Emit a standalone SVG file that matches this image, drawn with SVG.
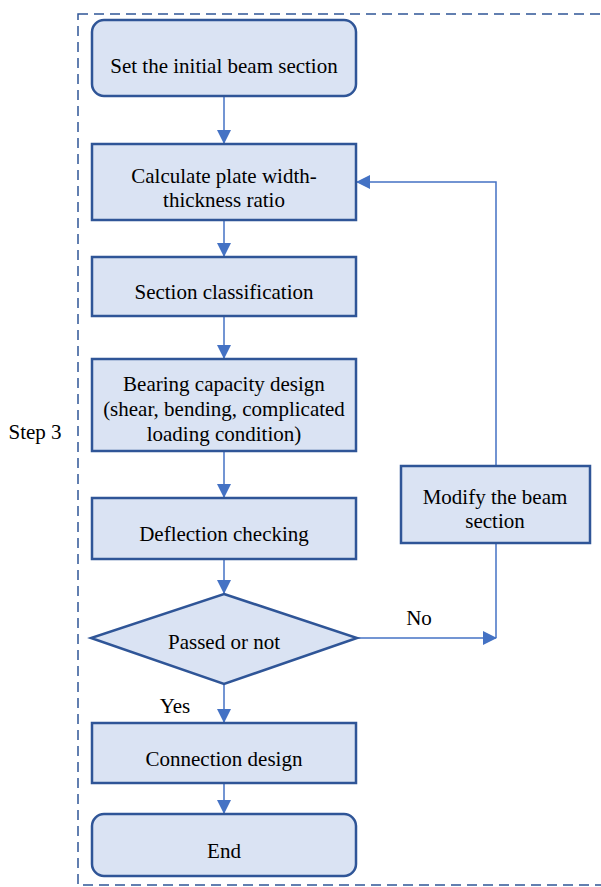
<svg xmlns="http://www.w3.org/2000/svg" width="601" height="887" viewBox="0 0 601 887">
<style>
.box{fill:#dae3f3;stroke:#2f5597;stroke-width:2.5}
.t{font-family:'Liberation Serif','Times New Roman',serif;font-size:21px;fill:#000;text-anchor:middle}
.c{stroke:#4472c4;stroke-width:1.5;fill:none}
</style>
<defs>
<marker id="ah" markerWidth="14" markerHeight="14" refX="13" refY="7" orient="auto" markerUnits="userSpaceOnUse">
<path d="M0,0 L14,7 L0,14 Z" fill="#4472c4"/>
</marker>
</defs>
<rect x="78" y="14" width="540" height="871" fill="none" stroke="#2f5597" stroke-width="1.5" stroke-dasharray="10,6"/>
<text class="t" x="35" y="439">Step 3</text>
<g id="connectors">
<line class="c" x1="224" y1="96" x2="224" y2="143" marker-end="url(#ah)"/>
<line class="c" x1="224" y1="220" x2="224" y2="256" marker-end="url(#ah)"/>
<line class="c" x1="224" y1="316" x2="224" y2="358" marker-end="url(#ah)"/>
<line class="c" x1="224" y1="451" x2="224" y2="497" marker-end="url(#ah)"/>
<line class="c" x1="224" y1="559" x2="224" y2="593" marker-end="url(#ah)"/>
<line class="c" x1="224" y1="684" x2="224" y2="722" marker-end="url(#ah)"/>
<line class="c" x1="224" y1="783" x2="224" y2="813" marker-end="url(#ah)"/>
<line class="c" x1="357" y1="638" x2="496" y2="638" marker-end="url(#ah)"/>
<line class="c" x1="496" y1="543" x2="496" y2="638"/>
<polyline class="c" points="496,466 496,182 357,182" marker-end="url(#ah)"/>
<text class="t" x="419" y="625">No</text>
<text class="t" x="175" y="713">Yes</text>
</g>
<g id="n1"><rect class="box" x="92" y="20" width="264" height="76" rx="12"/><text class="t" x="224" y="73">Set the initial beam section</text></g>
<g id="n2"><rect class="box" x="92" y="144" width="264" height="76"/><text class="t" x="224" y="183">Calculate plate width-</text><text class="t" x="224" y="207">thickness ratio</text></g>
<g id="n3"><rect class="box" x="92" y="257" width="264" height="59"/><text class="t" x="224" y="299">Section classification</text></g>
<g id="n4"><rect class="box" x="92" y="359" width="264" height="92"/><text class="t" x="224" y="391">Bearing capacity design</text><text class="t" x="224" y="416">(shear, bending, complicated</text><text class="t" x="224" y="441">loading condition)</text></g>
<g id="n5"><rect class="box" x="92" y="498" width="264" height="61"/><text class="t" x="224" y="541">Deflection checking</text></g>
<g id="n6"><polygon class="box" points="224,594 357,638 224,684 91,638"/><text class="t" x="224" y="649">Passed or not</text></g>
<g id="n7"><rect class="box" x="92" y="723" width="264" height="60"/><text class="t" x="224" y="766">Connection design</text></g>
<g id="n8"><rect class="box" x="92" y="814" width="264" height="62" rx="12"/><text class="t" x="224" y="858">End</text></g>
<g id="n9"><rect class="box" x="401" y="466" width="189" height="77"/><text class="t" x="495" y="504">Modify the beam</text><text class="t" x="495" y="528">section</text></g>
</svg>
